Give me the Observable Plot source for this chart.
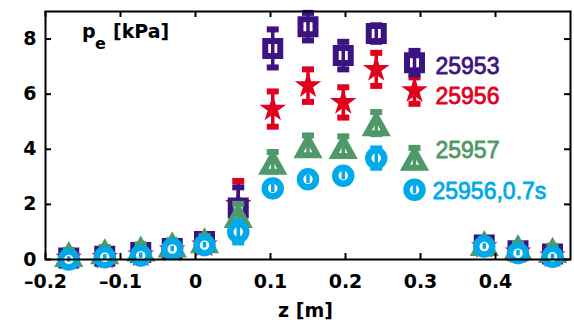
<!DOCTYPE html>
<html>
<head>
<meta charset="utf-8">
<script src="https://cdn.jsdelivr.net/npm/d3@7"></script>
<script src="https://cdn.jsdelivr.net/npm/@observablehq/plot@0.6"></script>
<style>
  html, body { margin: 0; padding: 0; background: #fff; }
  #chart { width: 574px; height: 325px; }
</style>
</head>
<body>
<div id="chart"></div>
<script>
// ---- data ----
const z = [-0.169, -0.121, -0.073, -0.031, 0.012, 0.057, 0.103, 0.150, 0.197, 0.241, 0.292, 0.385, 0.430, 0.476];

const pe25953  = [0.05, 0.12, 0.25, 0.40, 0.65, 1.87, 7.66, 8.45, 7.40, 8.20, 7.14, 0.53, 0.32, 0.20];
const err25953 = [0.10, 0.10, 0.10, 0.10, 0.15, 0.75, 0.69, 0.50, 0.50, 0.30, 0.43, 0.10, 0.10, 0.10];

const pe25956  = [0.05, 0.08, 0.17, 0.35, 0.53, 2.00, 5.46, 6.31, 5.70, 6.90, 6.13, 0.47, 0.28, 0.13];
const err25956 = [0.10, 0.10, 0.10, 0.10, 0.15, 0.85, 0.64, 0.59, 0.55, 0.60, 0.48, 0.10, 0.10, 0.10];

const pe25957  = [0.20, 0.30, 0.40, 0.55, 0.70, 1.62, 3.55, 4.15, 4.12, 4.95, 3.70, 0.60, 0.45, 0.35];
const err25957 = [0.15, 0.15, 0.15, 0.15, 0.15, 0.40, 0.35, 0.35, 0.35, 0.40, 0.35, 0.15, 0.15, 0.15];

const pe25956b  = [0.00, 0.08, 0.14, 0.38, 0.52, 1.00, 2.58, 2.91, 3.04, 3.68, 2.53, 0.47, 0.23, 0.10];
const err25956b = [0.10, 0.10, 0.10, 0.10, 0.10, 0.38, 0.15, 0.15, 0.15, 0.35, 0.15, 0.10, 0.10, 0.10];

const seriesNames = ["25953", "25956", "25957", "25956,0.7s"];
const seriesColors = ["#3b1482", "#e2001f", "#4f9867", "#00a9e9"];
const labelZ = [0.320, 0.320, 0.320, 0.316];
const labelPe = [7.00, 5.92, 3.95, 2.47];

const xTicks = [-0.2, -0.1, 0, 0.1, 0.2, 0.3, 0.4];
const yTicks = [0, 2, 4, 6, 8];

// ---- marker shapes ----
const squareSym = {draw(c) { c.moveTo(-7.5, -7.5); c.lineTo(7.5, -7.5); c.lineTo(7.5, 7.5); c.lineTo(-7.5, 7.5); c.closePath(); }};
const circleSym = {draw(c) { c.moveTo(8, 0); c.arc(0, 0, 8, 0, 2 * Math.PI); c.closePath(); }};
const triSym = {draw(c) { c.moveTo(0, -6.9); c.lineTo(9.5, 10.1); c.lineTo(-9.5, 10.1); c.closePath(); }};
const starSym = {draw(c) {
  const R = 14, r = R * 0.382;
  for (let k = 0; k < 10; ++k) {
    const a = -Math.PI / 2 + k * Math.PI / 5, rr = k % 2 ? r : R;
    const px = rr * Math.cos(a), py = rr * Math.sin(a);
    k ? c.lineTo(px, py) : c.moveTo(px, py);
  }
  c.closePath();
}};
const capSym = {draw(c) { c.moveTo(-6, -3); c.lineTo(6, -3); c.lineTo(6, 3); c.lineTo(-6, 3); c.closePath(); }};

const rows = (vals, errs) => z.map((zz, i) => ({z: zz, pe: vals[i], err: errs[i]}));
const S = [
  {rows: rows(pe25956, err25956), color: seriesColors[1], sym: starSym, filled: true, sw: 0},
  {rows: rows(pe25953, err25953), color: seriesColors[0], sym: squareSym, filled: false, sw: 6},
  {rows: rows(pe25957, err25957), color: seriesColors[2], sym: triSym, filled: false, sw: 6},
  {rows: rows(pe25956b, err25956b), color: seriesColors[3], sym: circleSym, filled: false, sw: 6.5}
];

const seriesMarks = S.flatMap(s => [
  Plot.dot(s.rows, {x: "z", y: d => d.pe + d.err, symbol: capSym, r: 3, fill: s.color, stroke: "none"}),
  Plot.dot(s.rows, {x: "z", y: d => d.pe - d.err, symbol: capSym, r: 3, fill: s.color, stroke: "none"}),
  Plot.dot(s.rows, {x: "z", y: "pe", symbol: s.sym, r: 5,
    fill: s.filled ? s.color : "white", stroke: s.filled ? "none" : s.color, strokeWidth: s.sw, strokeLinejoin: "miter"}),
  Plot.ruleX(s.rows, {x: "z", y1: d => d.pe - d.err, y2: d => d.pe + d.err, stroke: s.color, strokeWidth: 3.5})
]);

const W = 574, H = 325, mL = 45, mR = 4, mT = 11, mB = 66;
const plotW = W - mL - mR, plotH = H - mT - mB, tick = 6;
const fmt = d => d3.format("")(d).replace("\u2212", "\u2013");

const chart = Plot.plot({
  width: W, height: H,
  marginLeft: mL, marginRight: mR, marginTop: mT, marginBottom: mB,
  x: {domain: [-0.2, 0.5]},
  y: {domain: [0, 9]},
  style: {fontFamily: "'DejaVu Sans', sans-serif", fontSize: "19px", fontWeight: "bold", color: "black", background: "white", overflow: "visible"},
  marks: [
    ...seriesMarks,
    Plot.frame({stroke: "black", strokeWidth: 2}),
    Plot.ruleX(xTicks, {x: d => d, insetTop: plotH - tick, stroke: "black", strokeWidth: 2}),
    Plot.ruleX(xTicks, {x: d => d, insetBottom: plotH - tick, stroke: "black", strokeWidth: 2}),
    Plot.ruleY(yTicks, {y: d => d, insetRight: plotW - tick, stroke: "black", strokeWidth: 2}),
    Plot.ruleY(yTicks, {y: d => d, insetLeft: plotW - tick, stroke: "black", strokeWidth: 2}),
    Plot.axisX(xTicks, {tickSize: 0, tickPadding: 15, tickFormat: fmt, label: null, fontSize: 19, fontWeight: "bold"}),
    Plot.axisY(yTicks, {tickSize: 0, tickPadding: 9, tickFormat: fmt, label: null, fontSize: 19, fontWeight: "bold"}),
    Plot.text(["p"], {frameAnchor: "top-left", text: d => d, dx: 36.5, dy: 26, lineAnchor: "bottom", textAnchor: "start", fontSize: 19, fontWeight: "bold"}),
    Plot.text(["e"], {frameAnchor: "top-left", text: d => d, dx: 49.5, dy: 37, lineAnchor: "bottom", textAnchor: "start", fontSize: 16, fontWeight: "bold"}),
    Plot.text(["[kPa]"], {frameAnchor: "top-left", text: d => d, dx: 67.5, dy: 26, lineAnchor: "bottom", textAnchor: "start", fontSize: 19, fontWeight: "bold"}),
    Plot.text(["z [m]"], {frameAnchor: "bottom", text: d => d, dx: -2.5, dy: 57, lineAnchor: "bottom", textAnchor: "middle", fontSize: 19, fontWeight: "bold"}),
    ...seriesNames.map((name, i) => Plot.text([name], {x: () => labelZ[i], y: () => labelPe[i], text: d => d,
      fill: seriesColors[i], stroke: seriesColors[i], strokeWidth: 0.8, textAnchor: "start", lineAnchor: "middle",
      fontFamily: "'Liberation Sans', Arial, sans-serif", fontWeight: "normal", fontSize: 23}))
  ]
});
document.getElementById("chart").append(chart);
</script>
</body>
</html>
